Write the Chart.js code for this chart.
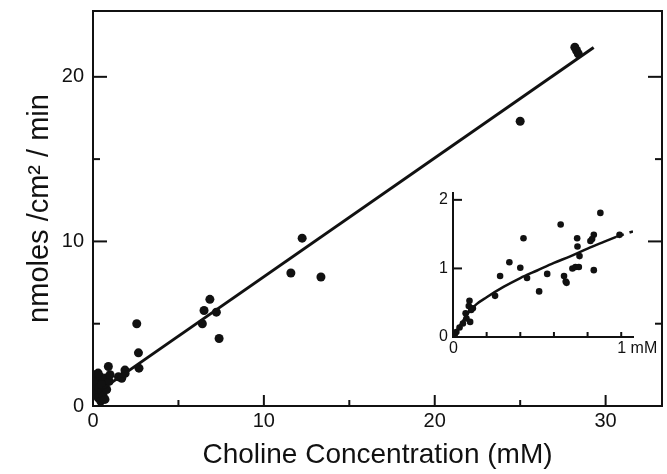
<!DOCTYPE html>
<html>
<head>
<meta charset="utf-8">
<script src="https://cdn.jsdelivr.net/npm/chart.js@4/dist/chart.umd.min.js"></script>
<style>
  html, body { margin: 0; padding: 0; background: #fff; }
  #wrap { position: relative; width: 667px; height: 474px; }
  #main-chart { position: absolute; left: 0; top: 0; }
  #inset-chart { position: absolute; left: 418px; top: 180px; }
</style>
</head>
<body>
<div id="wrap">
  <canvas id="main-chart" width="667" height="474"></canvas>
  <canvas id="inset-chart" width="245" height="190"></canvas>
</div>
<script>
// ── Data: main panel (choline mM vs nmoles/cm²/min) ─────────────────────────
const mainX = [
  0.1, 0.15, 0.2, 0.25, 0.3, 0.35, 0.4, 0.45, 0.5, 0.55,
  0.6, 0.65, 0.7, 0.75, 0.8, 0.9, 0.95, 1.0, 0.3, 0.5,
  1.49, 1.68, 1.88, 1.87, 2.66, 2.69, 2.56,
  6.4, 6.5, 6.84, 7.22, 7.38,
  11.58, 12.24, 13.34,
  25.0, 28.2, 28.3, 28.4,
];
const mainY = [
  1.9, 1.2, 0.8, 1.5, 0.5, 1.1, 1.8, 0.3, 0.9, 1.4,
  0.6, 1.2, 0.4, 1.7, 1.0, 2.4, 1.5, 1.9, 2.0, 1.3,
  1.78, 1.68, 1.98, 2.18, 3.23, 2.3, 5.0,
  5.0, 5.8, 6.48, 5.7, 4.1,
  8.08, 10.2, 7.84,
  17.3, 21.8, 21.6, 21.4,
];
const fitX = [0.6, 29.3];
const fitY = [1.07, 21.78];

const mainXMajor = [10, 20, 30];
const mainXMinor = [5, 15, 25];
const mainYMajor = [10, 20];
const mainYMinor = [5, 15];

// ── Data: inset (0–1 mM) ───────────────────────────────────────────────────
const insetX = [
  0.876, 0.64, 0.419, 0.738, 0.837, 0.827, 0.817, 0.99, 0.74, 0.752,
  0.335, 0.40, 0.28, 0.44, 0.56, 0.512, 0.66, 0.67, 0.675,
  0.71, 0.728, 0.748, 0.837, 0.25,
  0.098, 0.094, 0.108, 0.075, 0.118, 0.102, 0.059, 0.039, 0.02, 0.01, 0.08,
];
const insetY = [
  1.81, 1.64, 1.44, 1.44, 1.49, 1.43, 1.40, 1.49, 1.32, 1.18,
  1.09, 1.01, 0.89, 0.86, 0.92, 0.665, 0.89, 0.81, 0.79,
  1.0, 1.02, 1.02, 0.975, 0.60,
  0.527, 0.453, 0.394, 0.345, 0.419, 0.22, 0.197, 0.138, 0.074, 0.034, 0.27,
];
const curveX = [0, 0.05, 0.1, 0.14, 0.2, 0.3, 0.4, 0.5, 0.6, 0.7, 0.8, 0.9, 0.97];
const curveY = [0, 0.2, 0.38, 0.48, 0.58, 0.73, 0.86, 0.97, 1.08, 1.18, 1.29, 1.39, 1.46];
const dashX = [0.97, 1.07];
const dashY = [1.46, 1.54];

const insetXTicks = [0.2, 0.4, 0.6, 0.8, 1.0];
const insetYTicks = [1, 2];

// ── Helpers ────────────────────────────────────────────────────────────────
const INK = "#111";
const FONT = "'Liberation Sans', Arial, sans-serif";

const pts = (xs, ys) => xs.map((x, i) => ({ x, y: ys[i] }));

// fixed axis box, no extra edge padding from tick labels
const fixY = (w) => (s) => { s.width = w; s.paddingTop = 0; s.paddingBottom = 0; };
const fixX = (h) => (s) => { s.height = h; s.paddingLeft = 0; s.paddingRight = 0; };

// frame + inward tick marks, drawn through the chart's own scales
const frameTicks = {
  id: "frameTicks",
  afterDatasetsDraw(chart, args, opts) {
    const { ctx, chartArea: a, scales } = chart;
    ctx.save();
    ctx.strokeStyle = INK;
    ctx.lineWidth = opts.lineWidth || 2;
    ctx.lineCap = "square";
    if (opts.box) {
      ctx.strokeRect(a.left, a.top, a.right - a.left, a.bottom - a.top);
    } else {
      ctx.beginPath();
      ctx.moveTo(a.left, a.top);
      ctx.lineTo(a.left, a.bottom);
      ctx.lineTo(a.right, a.bottom);
      ctx.stroke();
    }
    ctx.lineCap = "butt";
    (opts.marks || []).forEach((m) => {
      m.values.forEach((v) => {
        ctx.beginPath();
        if (m.side === "bottom") {
          const x = scales.x.getPixelForValue(v);
          ctx.moveTo(x, a.bottom); ctx.lineTo(x, a.bottom - m.len);
        } else if (m.side === "left") {
          const y = scales.y.getPixelForValue(v);
          ctx.moveTo(a.left, y); ctx.lineTo(a.left + m.len, y);
        } else if (m.side === "right") {
          const y = scales.y.getPixelForValue(v);
          ctx.moveTo(a.right, y); ctx.lineTo(a.right - m.len, y);
        }
        ctx.stroke();
      });
    });
    ctx.restore();
  },
};

// ── Main chart ─────────────────────────────────────────────────────────────
new Chart(document.getElementById("main-chart"), {
  type: "scatter",
  data: {
    datasets: [
      {
        label: "fit",
        data: pts(fitX, fitY),
        showLine: true,
        borderColor: INK,
        borderWidth: 3,
        pointRadius: 0,
      },
      {
        label: "data",
        data: pts(mainX, mainY),
        backgroundColor: INK,
        borderColor: INK,
        pointRadius: 4.5,
        pointBorderWidth: 0,
      },
    ],
  },
  plugins: [frameTicks],
  options: {
    responsive: false,
    animation: false,
    devicePixelRatio: 1,
    layout: { padding: { top: 11, right: 5, left: 0, bottom: 0 } },
    plugins: {
      legend: { display: false },
      tooltip: { enabled: false },
      frameTicks: {
        box: true,
        lineWidth: 2,
        marks: [
          { side: "bottom", values: mainXMajor, len: 11 },
          { side: "bottom", values: mainXMinor, len: 6 },
          { side: "left",   values: mainYMajor, len: 14 },
          { side: "left",   values: mainYMinor, len: 7 },
          { side: "right",  values: mainYMajor, len: 14 },
          { side: "right",  values: mainYMinor, len: 7 },
        ],
      },
    },
    scales: {
      x: {
        type: "linear",
        min: 0,
        max: 33.3,
        afterFit: fixX(68),
        grid: { display: false, drawTicks: false },
        border: { display: false },
        ticks: {
          stepSize: 5,
          includeBounds: false,
          maxRotation: 0,
          padding: 3,
          color: INK,
          font: { family: FONT, size: 20 },
          callback: (v) => (v % 10 === 0 ? String(v) : ""),
        },
        title: {
          display: true,
          text: "Choline Concentration (mM)",
          color: INK,
          font: { family: FONT, size: 28 },
          padding: { top: 0, bottom: 2 },
        },
      },
      y: {
        type: "linear",
        min: 0,
        max: 24,
        afterFit: fixY(93),
        grid: { display: false, drawTicks: false },
        border: { display: false },
        ticks: {
          stepSize: 5,
          includeBounds: false,
          padding: 9,
          color: INK,
          font: { family: FONT, size: 20 },
          callback: (v) => (v % 10 === 0 ? String(v) : ""),
        },
        title: {
          display: true,
          text: "nmoles /cm² / min",
          color: INK,
          font: { family: FONT, size: 29 },
          padding: { top: 23, bottom: 0 },
        },
      },
    },
  },
});

// ── Inset chart ────────────────────────────────────────────────────────────
new Chart(document.getElementById("inset-chart"), {
  type: "scatter",
  data: {
    datasets: [
      {
        label: "curve",
        data: pts(curveX, curveY),
        showLine: true,
        cubicInterpolationMode: "monotone",
        borderColor: INK,
        borderWidth: 2.5,
        pointRadius: 0,
      },
      {
        label: "curve-dash",
        data: pts(dashX, dashY),
        showLine: true,
        borderColor: INK,
        borderWidth: 2.5,
        borderDash: [8, 6],
        pointRadius: 0,
      },
      {
        label: "inset-data",
        data: pts(insetX, insetY),
        backgroundColor: INK,
        borderColor: INK,
        pointRadius: 3.3,
        pointBorderWidth: 0,
      },
    ],
  },
  plugins: [frameTicks],
  options: {
    responsive: false,
    animation: false,
    devicePixelRatio: 1,
    layout: { padding: { top: 13, right: 30, left: 0, bottom: 0 } },
    plugins: {
      legend: { display: false },
      tooltip: { enabled: false },
      frameTicks: {
        box: false,
        lineWidth: 2,
        marks: [
          { side: "bottom", values: insetXTicks, len: 5 },
          { side: "left",   values: insetYTicks, len: 9 },
        ],
      },
    },
    scales: {
      x: {
        type: "linear",
        min: 0,
        max: 1.07,
        afterFit: fixX(33),
        grid: { display: false, drawTicks: false },
        border: { display: false },
        ticks: {
          stepSize: 0.2,
          includeBounds: false,
          autoSkip: false,
          maxRotation: 0,
          minRotation: 0,
          align: "start",
          labelOffset: -4,
          padding: 2,
          color: INK,
          font: { family: FONT, size: 16 },
          callback: (v) => (v === 0 ? "0" : Math.abs(v - 1) < 1e-6 ? "1 mM" : ""),
        },
      },
      y: {
        type: "linear",
        min: 0,
        max: 2.1,
        afterFit: fixY(35),
        grid: { display: false, drawTicks: false },
        border: { display: false },
        ticks: {
          stepSize: 1,
          includeBounds: false,
          padding: 5,
          color: INK,
          font: { family: FONT, size: 16 },
        },
      },
    },
  },
});
</script>
</body>
</html>
